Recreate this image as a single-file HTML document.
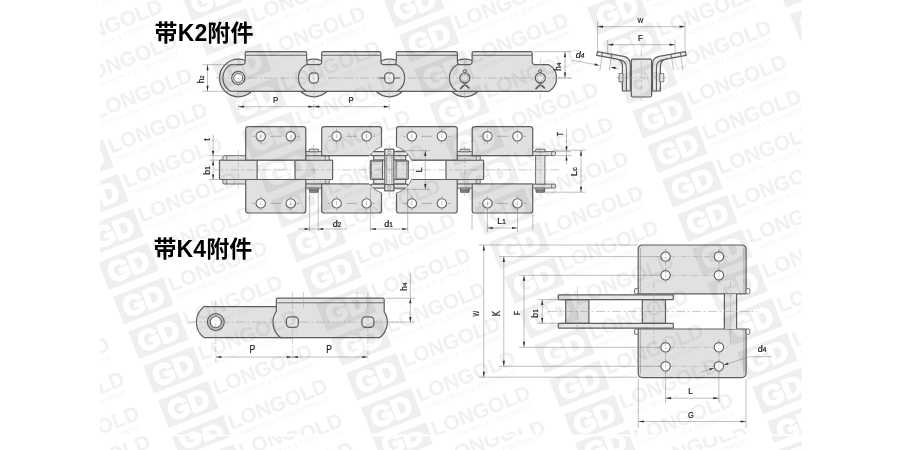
<!DOCTYPE html>
<html lang="zh"><head><meta charset="utf-8"><title>带K2附件 / 带K4附件</title>
<style>
html,body{margin:0;padding:0;background:#fff}
svg{display:block;will-change:transform}
.o{fill:#e1e1e1;stroke:#625d5d;stroke-width:1.2;stroke-linejoin:round}
.o2{fill:none;stroke:#625d5d;stroke-width:.9}
.t{fill:none;stroke:#8c8c8c;stroke-width:.55}
.c{fill:none;stroke:#a6a6a6;stroke-width:.6;stroke-dasharray:9 2.5 2 2.5}
.c2{fill:none;stroke:#a0a0a0;stroke-width:.5;stroke-dasharray:6 2 1.5 2}
.ah{fill:#2e2e2e;stroke:none}
.lb{font-family:"Liberation Sans","Noto Sans CJK SC",sans-serif;fill:#1c1c1c;stroke:#1c1c1c;stroke-width:.22px}
.ti{font-family:"Liberation Sans","Noto Sans CJK SC",sans-serif;font-weight:bold;font-size:23px;letter-spacing:.1px;fill:#000}
</style></head>
<body>
<svg width="900" height="450" viewBox="0 0 900 450">
<rect width="900" height="450" fill="#fff"/>
<g id="drawing">
<g id="k2side">
<circle class="o" style="fill:#e4e4e4" cx="238.3" cy="78.0" r="18.8"/>
<circle class="o" style="fill:#e4e4e4" cx="313.8" cy="78.0" r="18.8"/>
<circle class="o" style="fill:#e4e4e4" cx="389.3" cy="78.0" r="18.8"/>
<circle class="o" style="fill:#e4e4e4" cx="464.8" cy="78.0" r="18.8"/>
<path class="o" d="M230.54 64.70A15.4 15.4 0 0 0 230.54 91.30H321.56A15.4 15.4 0 0 0 321.56 64.70H309.90Q306.70 64.70 306.70 61.50V53.20Q306.70 51.70 305.20 51.70H246.70Q245.20 51.70 245.20 53.20V61.50Q245.20 64.70 242.00 64.70Z"/><path class="o2" d="M245.50 55.30H306.40"/>
<path class="o" d="M381.54 64.70A15.4 15.4 0 0 0 381.54 91.30H472.56A15.4 15.4 0 0 0 472.56 64.70H460.60Q457.40 64.70 457.40 61.50V53.20Q457.40 51.70 455.90 51.70H397.80Q396.30 51.70 396.30 53.20V61.50Q396.30 64.70 393.10 64.70Z"/><path class="o2" d="M396.60 55.30H457.10"/>
<path class="o" d="M306.04 64.70A15.4 15.4 0 0 0 306.04 91.30H397.06A15.4 15.4 0 0 0 397.06 64.70H384.10Q380.90 64.70 380.90 61.50V53.20Q380.90 51.70 379.40 51.70H323.20Q321.70 51.70 321.70 53.20V61.50Q321.70 64.70 318.50 64.70Z"/><path class="o2" d="M322.00 55.30H380.60"/>
<path class="o" d="M457.04 64.70A15.4 15.4 0 0 0 457.04 91.30H548.96A15.4 15.4 0 0 0 548.96 64.70H535.40Q532.20 64.70 532.20 61.50V53.20Q532.20 51.70 530.70 51.70H473.60Q472.10 51.70 472.10 53.20V61.50Q472.10 64.70 468.90 64.70Z"/><path class="o2" d="M472.40 55.30H531.90"/>
<path class="c" d="M216.0 78.0H572.0"/>
<circle class="o" style="fill:#e9e9e9" cx="238.3" cy="78.0" r="6.6"/><circle class="o" style="fill:#fff;stroke-width:.9" cx="238.3" cy="78.0" r="4.5"/>
<rect class="o" style="fill:#efefef" x="309.20" y="72.80" width="9.2" height="10.4" rx="3.6"/>
<rect class="o" style="fill:#efefef" x="384.70" y="72.80" width="9.2" height="10.4" rx="3.6"/>
<path class="o2" d="M378.8 78.0H384.7M393.9 78.0H399.8"/>
<circle class="o" style="fill:#f4f4f4" cx="464.8" cy="78.0" r="5"/><circle class="t" cx="464.8" cy="78.0" r="3.2"/>
<circle class="o" style="fill:none;stroke-width:1" cx="464.8" cy="71.2" r="1.6"/>
<path class="o" style="fill:none;stroke-width:1.8;stroke-linecap:round" d="M466.2 82.6L460.6 88.6M463.4 82.6L468.8 87.8"/>
<circle class="o" style="fill:#f4f4f4" cx="540.3" cy="78.0" r="5"/><circle class="t" cx="540.3" cy="78.0" r="3.2"/>
<circle class="o" style="fill:none;stroke-width:1" cx="540.3" cy="71.2" r="1.6"/>
<path class="o" style="fill:none;stroke-width:1.8;stroke-linecap:round" d="M541.7 82.6L536.1 88.6M538.9 82.6L544.3 87.8"/>
<path class="c2" d="M238.3 58.0V111.0"/>
<path class="c2" d="M313.8 58.0V111.0"/>
<path class="c2" d="M389.3 58.0V111.0"/>
<path class="c2" d="M464.8 58.0V100.0"/>
<path class="c2" d="M540.3 59.0V100.0"/>
<path class="t" d="M202.5 64.7H236M202.5 91.3H236"/>
<path class="t" d="M207.50 64.70V91.30"/><path class="ah" d="M207.50 64.70L208.60 70.20L206.40 70.20Z"/><path class="ah" d="M207.50 91.30L206.40 85.80L208.60 85.80Z"/>
<text class="lb" transform="translate(203.90 79.30) rotate(-90)" font-size="8.4" text-anchor="middle">h<tspan font-size="6.0">2</tspan></text>
<path class="t" d="M238.30 106.70H313.80"/><path class="ah" d="M238.30 106.70L243.80 105.60L243.80 107.80Z"/><path class="ah" d="M313.80 106.70L308.30 107.80L308.30 105.60Z"/>
<path class="t" d="M313.80 106.70H389.30"/><path class="ah" d="M313.80 106.70L319.30 105.60L319.30 107.80Z"/><path class="ah" d="M389.30 106.70L383.80 107.80L383.80 105.60Z"/>
<text class="lb" transform="translate(275.50 102.80) scale(0.90 1)" font-size="8.7" text-anchor="middle">P</text>
<text class="lb" transform="translate(351.00 102.80) scale(0.90 1)" font-size="8.7" text-anchor="middle">P</text>
<path class="t" d="M533 51.7H571M558 78.0H571"/>
<path class="t" d="M565.00 51.70V78.00"/><path class="ah" d="M565.00 51.70L566.10 57.20L563.90 57.20Z"/><path class="ah" d="M565.00 78.00L563.90 72.50L566.10 72.50Z"/>
<text class="lb" transform="translate(561.30 66.70) rotate(-90)" font-size="8.4" text-anchor="middle">h<tspan font-size="6.0">4</tspan></text>
</g>
<g id="k2cross">
<path class="t" d="M597.5 21.5V52M685 21.5V52M607.7 40V58M675 40V58"/>
<path class="t" d="M597.50 26.70H685.00"/><path class="ah" d="M597.50 26.70L603.00 25.60L603.00 27.80Z"/><path class="ah" d="M685.00 26.70L679.50 27.80L679.50 25.60Z"/>
<path class="t" d="M607.70 44.70H675.00"/><path class="ah" d="M607.70 44.70L613.20 43.60L613.20 45.80Z"/><path class="ah" d="M675.00 44.70L669.50 45.80L669.50 43.60Z"/>
<text class="lb" transform="translate(640.50 23.00) scale(0.85 1)" font-size="7.2" text-anchor="middle">W</text>
<text class="lb" transform="translate(640.50 40.80) scale(0.90 1)" font-size="8.7" text-anchor="middle">F</text>
<path class="o" style="stroke-width:1.2;fill:#ececec" d="M597.50 51.70L623.60 56.30Q630.30 57.60 630.30 64.50V91H622.40V66.5Q622.40 60.30 617.00 59.20L596.70 55.30Z"/><path class="o2" style="stroke-width:1.1" d="M619.20 59.60Q626.40 60.60 626.40 67.50V91"/><path class="o2" style="stroke-width:.9" d="M602.40 52.56L601.80 56.16"/><path class="o2" style="stroke-width:.9" d="M611.80 54.22L611.20 57.82"/><rect class="o" style="stroke-width:.8;fill:#eee" x="619.00" y="73.6" width="4" height="8.2"/><path class="t" d="M602.00 56.50L599.80 70.50"/><path class="t" d="M611.40 56.50L609.20 70.50"/>
<path class="o" style="stroke-width:1.2;fill:#ececec" d="M685.30 51.70L659.20 56.30Q652.50 57.60 652.50 64.50V91H660.40V66.5Q660.40 60.30 665.80 59.20L686.10 55.30Z"/><path class="o2" style="stroke-width:1.1" d="M663.60 59.60Q656.40 60.60 656.40 67.50V91"/><path class="o2" style="stroke-width:.9" d="M680.40 52.56L681.00 56.16"/><path class="o2" style="stroke-width:.9" d="M671.00 54.22L671.60 57.82"/><rect class="o" style="stroke-width:.8;fill:#eee" x="659.80" y="73.6" width="4" height="8.2"/><path class="t" d="M680.80 56.50L683.00 70.50"/><path class="t" d="M671.40 56.50L673.60 70.50"/>
<rect class="o" style="fill:#e6e6e6" x="631.3" y="59.2" width="20.3" height="37.8" rx="1.5"/>
<path class="c2" d="M641.3 50V101M616 77.7H667"/>
<path class="t" d="M572 60.2L597.5 65M612.5 67.4L619.5 69"/>
<path class="ah" d="M599.60 65.40L594.48 65.48L594.92 63.33Z"/>
<path class="ah" d="M610.60 67.10L615.72 67.02L615.28 69.17Z"/>
<text class="lb" transform="translate(580.00 58.30)" font-size="9.0" text-anchor="middle" font-style="italic">d<tspan font-size="6.5">4</tspan></text>
</g>
<g id="k2plan">
<rect class="o" style="fill:#e4e4e4" x="219.50" y="160.20" width="37.6" height="19.30" rx="0.8"/>
<rect class="o" style="fill:#e4e4e4" x="295.00" y="160.20" width="37.6" height="19.30" rx="0.8"/>
<rect class="o" style="fill:#e4e4e4" x="446.00" y="160.20" width="37.6" height="19.30" rx="0.8"/>
<rect class="o" style="stroke-width:.9" x="222.80" y="155.70" width="106.50" height="4.5" rx="1.2"/>
<path class="o2" style="stroke-width:.7" d="M226.80 155.70v4.5M325.30 155.70v4.5"/>
<rect class="o" style="stroke-width:.9" x="222.80" y="179.50" width="106.50" height="4.5" rx="1.2"/>
<path class="o2" style="stroke-width:.7" d="M226.80 179.50v4.5M325.30 179.50v4.5"/>
<rect class="o" style="stroke-width:.9" x="373.80" y="155.70" width="106.50" height="4.5" rx="1.2"/>
<path class="o2" style="stroke-width:.7" d="M377.80 155.70v4.5M476.30 155.70v4.5"/>
<rect class="o" style="stroke-width:.9" x="373.80" y="179.50" width="106.50" height="4.5" rx="1.2"/>
<path class="o2" style="stroke-width:.7" d="M377.80 179.50v4.5M476.30 179.50v4.5"/>
<rect class="o" style="stroke-width:.9" x="298.50" y="151.60" width="106.10" height="4" rx="1.2"/>
<path class="o2" style="stroke-width:.7" d="M302.50 151.60v4M400.60 151.60v4"/>
<rect class="o" style="stroke-width:.9" x="298.50" y="184.10" width="106.10" height="4" rx="1.2"/>
<path class="o2" style="stroke-width:.7" d="M302.50 184.10v4M400.60 184.10v4"/>
<rect class="o" style="stroke-width:.9" x="449.50" y="151.60" width="106.10" height="4" rx="1.2"/>
<path class="o2" style="stroke-width:.7" d="M453.50 151.60v4M551.60 151.60v4"/>
<rect class="o" style="stroke-width:.9" x="449.50" y="184.10" width="106.10" height="4" rx="1.2"/>
<path class="o2" style="stroke-width:.7" d="M453.50 184.10v4M551.60 184.10v4"/>
<rect class="o" style="fill:#e6e6e6;stroke-width:.9" x="535.6" y="155.60" width="9.3" height="28.50"/>
<path class="o" d="M245.70 160.20V129.20Q245.70 126.70 248.20 126.70H303.30Q305.80 126.70 305.80 129.20V160.20Z"/>
<path class="o" d="M245.70 179.50V210.50Q245.70 213.00 248.20 213.00H303.30Q305.80 213.00 305.80 210.50V179.50Z"/>
<path class="t" style="stroke:#8a8a8a;stroke-width:.6" d="M252.15 136.30h2.6M270.45 136.30h10.6M296.75 136.30h2.6"/>
<circle class="o" style="fill:#fff;stroke-width:1.05" cx="260.75" cy="136.30" r="4.7"/>
<path class="t" d="M260.75 128.80v3M260.75 140.80v3M260.75 134.30v4"/>
<circle class="o" style="fill:#fff;stroke-width:1.05" cx="290.75" cy="136.30" r="4.7"/>
<path class="t" d="M290.75 128.80v3M290.75 140.80v3M290.75 134.30v4"/>
<path class="t" style="stroke:#8a8a8a;stroke-width:.6" d="M252.15 203.40h2.6M270.45 203.40h10.6M296.75 203.40h2.6"/>
<circle class="o" style="fill:#fff;stroke-width:1.05" cx="260.75" cy="203.40" r="4.7"/>
<path class="t" d="M260.75 195.90v3M260.75 207.90v3M260.75 201.40v4"/>
<circle class="o" style="fill:#fff;stroke-width:1.05" cx="290.75" cy="203.40" r="4.7"/>
<path class="t" d="M290.75 195.90v3M290.75 207.90v3M290.75 201.40v4"/>
<path class="o" d="M321.70 155.70V129.20Q321.70 126.70 324.20 126.70H379.00Q381.50 126.70 381.50 129.20V155.70Z"/>
<path class="o" d="M321.70 184.00V210.50Q321.70 213.00 324.20 213.00H379.00Q381.50 213.00 381.50 210.50V184.00Z"/>
<path class="t" style="stroke:#8a8a8a;stroke-width:.6" d="M328.00 136.30h2.6M346.30 136.30h10.6M372.60 136.30h2.6"/>
<circle class="o" style="fill:#fff;stroke-width:1.05" cx="336.60" cy="136.30" r="4.7"/>
<path class="t" d="M336.60 128.80v3M336.60 140.80v3M336.60 134.30v4"/>
<circle class="o" style="fill:#fff;stroke-width:1.05" cx="366.60" cy="136.30" r="4.7"/>
<path class="t" d="M366.60 128.80v3M366.60 140.80v3M366.60 134.30v4"/>
<path class="t" style="stroke:#8a8a8a;stroke-width:.6" d="M328.00 203.40h2.6M346.30 203.40h10.6M372.60 203.40h2.6"/>
<circle class="o" style="fill:#fff;stroke-width:1.05" cx="336.60" cy="203.40" r="4.7"/>
<path class="t" d="M336.60 195.90v3M336.60 207.90v3M336.60 201.40v4"/>
<circle class="o" style="fill:#fff;stroke-width:1.05" cx="366.60" cy="203.40" r="4.7"/>
<path class="t" d="M366.60 195.90v3M366.60 207.90v3M366.60 201.40v4"/>
<path class="o" d="M396.50 160.20V129.20Q396.50 126.70 399.00 126.70H454.70Q457.20 126.70 457.20 129.20V160.20Z"/>
<path class="o" d="M396.50 179.50V210.50Q396.50 213.00 399.00 213.00H454.70Q457.20 213.00 457.20 210.50V179.50Z"/>
<path class="t" style="stroke:#8a8a8a;stroke-width:.6" d="M403.25 136.30h2.6M421.55 136.30h10.6M447.85 136.30h2.6"/>
<circle class="o" style="fill:#fff;stroke-width:1.05" cx="411.85" cy="136.30" r="4.7"/>
<path class="t" d="M411.85 128.80v3M411.85 140.80v3M411.85 134.30v4"/>
<circle class="o" style="fill:#fff;stroke-width:1.05" cx="441.85" cy="136.30" r="4.7"/>
<path class="t" d="M441.85 128.80v3M441.85 140.80v3M441.85 134.30v4"/>
<path class="t" style="stroke:#8a8a8a;stroke-width:.6" d="M403.25 203.40h2.6M421.55 203.40h10.6M447.85 203.40h2.6"/>
<circle class="o" style="fill:#fff;stroke-width:1.05" cx="411.85" cy="203.40" r="4.7"/>
<path class="t" d="M411.85 195.90v3M411.85 207.90v3M411.85 201.40v4"/>
<circle class="o" style="fill:#fff;stroke-width:1.05" cx="441.85" cy="203.40" r="4.7"/>
<path class="t" d="M441.85 195.90v3M441.85 207.90v3M441.85 201.40v4"/>
<path class="o" d="M472.20 155.70V129.20Q472.20 126.70 474.70 126.70H530.20Q532.70 126.70 532.70 129.20V155.70Z"/>
<path class="o" d="M472.20 184.00V210.50Q472.20 213.00 474.70 213.00H530.20Q532.70 213.00 532.70 210.50V184.00Z"/>
<path class="t" style="stroke:#8a8a8a;stroke-width:.6" d="M478.85 136.30h2.6M497.15 136.30h10.6M523.45 136.30h2.6"/>
<circle class="o" style="fill:#fff;stroke-width:1.05" cx="487.45" cy="136.30" r="4.7"/>
<path class="t" d="M487.45 128.80v3M487.45 140.80v3M487.45 134.30v4"/>
<circle class="o" style="fill:#fff;stroke-width:1.05" cx="517.45" cy="136.30" r="4.7"/>
<path class="t" d="M517.45 128.80v3M517.45 140.80v3M517.45 134.30v4"/>
<path class="t" style="stroke:#8a8a8a;stroke-width:.6" d="M478.85 203.40h2.6M497.15 203.40h10.6M523.45 203.40h2.6"/>
<circle class="o" style="fill:#fff;stroke-width:1.05" cx="487.45" cy="203.40" r="4.7"/>
<path class="t" d="M487.45 195.90v3M487.45 207.90v3M487.45 201.40v4"/>
<circle class="o" style="fill:#fff;stroke-width:1.05" cx="517.45" cy="203.40" r="4.7"/>
<path class="t" d="M517.45 195.90v3M517.45 207.90v3M517.45 201.40v4"/>
<rect class="o" style="fill:#e8e8e8;stroke-width:.9" x="309.20" y="149.20" width="9.2" height="2.6"/>
<rect class="o" style="fill:#e8e8e8;stroke-width:.9" x="309.20" y="188.10" width="9.2" height="2.0"/>
<rect class="o" style="fill:#8a8686;stroke-width:.9" x="309.60" y="189.90" width="8.4" height="2.4"/>
<rect class="o" style="fill:#e8e8e8;stroke-width:.9" x="460.20" y="149.20" width="9.2" height="2.6"/>
<rect class="o" style="fill:#e8e8e8;stroke-width:.9" x="460.20" y="188.10" width="9.2" height="2.0"/>
<rect class="o" style="fill:#8a8686;stroke-width:.9" x="460.60" y="189.90" width="8.4" height="2.4"/>
<rect class="o" style="fill:#e8e8e8;stroke-width:.9" x="535.70" y="149.20" width="9.2" height="2.6"/>
<rect class="o" style="fill:#e8e8e8;stroke-width:.9" x="535.70" y="188.10" width="9.2" height="2.0"/>
<rect class="o" style="fill:#8a8686;stroke-width:.9" x="536.10" y="189.90" width="8.4" height="2.4"/>
<circle cx="389.30" cy="169.85" r="24.3" fill="#fff" stroke="#dcdcdc" stroke-width=".5"/>
<clipPath id="wcl"><rect x="321.7" y="126" width="59.8" height="29.70"/><rect x="321.7" y="184.00" width="59.8" height="30"/><rect x="396.5" y="126" width="60.7" height="34.20"/><rect x="396.5" y="179.50" width="60.7" height="30"/></clipPath>
<circle cx="389.30" cy="169.85" r="24.3" fill="none" stroke="#625d5d" stroke-width=".8" clip-path="url(#wcl)"/>
<clipPath id="bo"><circle cx="389.30" cy="169.85" r="24.3"/></clipPath>
<g clip-path="url(#bo)"><rect class="o" style="stroke-width:1.1;fill:#e6e6e6" x="371.00" y="151.60" width="36.60" height="4" rx="1"/><rect class="o" style="stroke-width:1.1;fill:#e6e6e6" x="371.00" y="184.10" width="36.60" height="4" rx="1"/><rect class="o" style="stroke-width:1.1;fill:#e6e6e6" x="373.70" y="155.70" width="32.10" height="4.3" rx="1"/><rect class="o" style="stroke-width:1.1;fill:#e6e6e6" x="373.70" y="179.50" width="32.10" height="4.3" rx="1"/><rect class="o" style="fill:#e1e1e1;stroke-width:1.1" x="370.30" y="160.20" width="38.00" height="19.30" rx="1"/><rect class="o2" style="stroke-width:.6" x="371.70" y="161.50" width="35.20" height="16.70"/><rect class="o" style="fill:#ececec;stroke-width:1" x="382.50" y="160.10" width="13.60" height="19.50"/></g>
<rect class="o" style="fill:#ececec;stroke-width:1.1" x="384.80" y="149.2" width="9" height="41.5"/>
<path class="o2" style="stroke-width:.6" d="M386.70 155.3V184.6M391.90 155.3V184.6"/>
<rect class="o" style="fill:#e4e4e4;stroke-width:1.1" x="384.80" y="149.20" width="9" height="6.1"/>
<circle class="o" style="fill:#fff;stroke-width:.7" cx="389.30" cy="152.25" r="1.5"/>
<rect class="o" style="fill:#e4e4e4;stroke-width:1.1" x="384.80" y="184.60" width="9" height="6.1"/>
<circle class="o" style="fill:#fff;stroke-width:.7" cx="389.30" cy="187.65" r="1.5"/>
<path class="c" d="M214 169.85H560"/>
<path class="c2" d="M238.30 150.00V189.00"/>
<path class="c2" d="M313.80 145.00V195.00"/>
<path class="c2" d="M389.30 145.00V196.00"/>
<path class="c2" d="M464.80 146.00V196.00"/>
<path class="c2" d="M540.30 146.00V196.00"/>
<path class="t" d="M209 155.70H222M209 160.20H219M209 179.50H219"/>
<path class="t" d="M213.1 135V179.50"/>
<path class="ah" d="M213.10 155.70L212.00 150.70L214.20 150.70Z"/>
<path class="ah" d="M213.10 160.20L214.20 165.20L212.00 165.20Z"/>
<path class="ah" d="M213.10 179.50L212.00 174.50L214.20 174.50Z"/>
<text class="lb" transform="translate(209.50 139.50) rotate(-90)" font-size="8.8" text-anchor="middle">t</text>
<text class="lb" transform="translate(209.50 170.50) rotate(-90)" font-size="8.8" text-anchor="middle">b<tspan font-size="6.3">1</tspan></text>
<path class="t" d="M396 150.6H430M396 189.4H430"/>
<path class="t" d="M425.30 150.60V189.40"/><path class="ah" d="M425.30 150.60L426.40 156.10L424.20 156.10Z"/><path class="ah" d="M425.30 189.40L424.20 183.90L426.40 183.90Z"/>
<text class="lb" transform="translate(422.00 170.00) rotate(-90)" font-size="9.0" text-anchor="middle">L</text>
<path class="t" d="M556 151.60H571M556 155.60H571M566.5 129V165"/>
<path class="ah" d="M566.50 151.60L565.40 146.60L567.60 146.60Z"/>
<path class="ah" d="M566.50 155.60L567.60 160.60L565.40 160.60Z"/>
<text class="lb" transform="translate(562.70 134.00) rotate(-90) scale(0.80 1)" font-size="8.8" text-anchor="middle">T</text>
<path class="t" d="M553 150.2H585.5M546 192.2H585.5"/>
<path class="t" d="M581.00 150.20V192.20"/><path class="ah" d="M581.00 150.20L582.10 155.70L579.90 155.70Z"/><path class="ah" d="M581.00 192.20L579.90 186.70L582.10 186.70Z"/>
<text class="lb" transform="translate(577.30 171.70) rotate(-90)" font-size="9.8" text-anchor="middle">L<tspan font-size="7.1">c</tspan></text>
<path class="t" d="M309.6 191V231M318.2 191V231M298 229H347"/>
<path class="ah" d="M309.60 229.00L304.60 230.10L304.60 227.90Z"/>
<path class="ah" d="M318.20 229.00L323.20 227.90L323.20 230.10Z"/>
<text class="lb" transform="translate(337.00 226.50)" font-size="9.0" text-anchor="middle">d<tspan font-size="6.5">2</tspan></text>
<path class="t" d="M370.4 188V231M407.7 188V231"/>
<path class="t" d="M370.40 229.00H407.70"/><path class="ah" d="M370.40 229.00L375.90 227.90L375.90 230.10Z"/><path class="ah" d="M407.70 229.00L402.20 230.10L402.20 227.90Z"/>
<text class="lb" transform="translate(388.60 226.50)" font-size="9.0" text-anchor="middle">d<tspan font-size="6.5">1</tspan></text>
<path class="t" d="M487.4 209V232M517.5 209V232M472 214V230M532.8 214V230"/>
<path class="t" d="M487.40 228.00H517.50"/><path class="ah" d="M487.40 228.00L492.90 226.90L492.90 229.10Z"/><path class="ah" d="M517.50 228.00L512.00 229.10L512.00 226.90Z"/>
<text class="lb" transform="translate(501.50 224.40)" font-size="9.0" text-anchor="middle">L<tspan font-size="6.5">1</tspan></text>
</g>
<g id="k4side">
<path class="o" d="M204.20 306.60A19.4 19.4 0 0 0 204.20 337.70H292.40V306.60Z"/>
<path class="o" d="M276.30 311.28A19.4 19.4 0 0 0 280.80 337.70H379.50A19.4 19.4 0 0 0 384.20 311.58V299.70Q384.20 298.20 382.70 298.20H277.80Q276.30 298.20 276.30 299.70Z"/>
<path class="o2" d="M276.60 302.80H383.90"/>
<path class="c" d="M188 322.10H398"/>
<circle class="o" style="fill:#e6e6e6" cx="215.8" cy="322.1" r="8.4"/><circle class="t" style="stroke:#777" cx="215.8" cy="322.1" r="7"/><circle class="o" style="fill:#fff" cx="215.8" cy="322.1" r="5.6"/>
<rect class="o" style="fill:#e4e4e4" x="286.40" y="316.90" width="12" height="10.4" rx="3.6"/>
<rect class="o" style="fill:#e4e4e4" x="361.90" y="316.90" width="12" height="10.4" rx="3.6"/>
<path class="c2" d="M215.8 300V362M292.4 292V362M367.9 292V362"/>
<path class="c2" d="M303.5 292V308M357.2 292V308"/>
<path class="t" d="M215.80 357.00H292.40"/><path class="ah" d="M215.80 357.00L221.30 355.90L221.30 358.10Z"/><path class="ah" d="M292.40 357.00L286.90 358.10L286.90 355.90Z"/>
<path class="t" d="M292.40 357.00H367.90"/><path class="ah" d="M292.40 357.00L297.90 355.90L297.90 358.10Z"/><path class="ah" d="M367.90 357.00L362.40 358.10L362.40 355.90Z"/>
<text class="lb" transform="translate(252.30 352.60) scale(0.85 1)" font-size="10.0" text-anchor="middle">P</text>
<text class="lb" transform="translate(329.20 352.60) scale(0.85 1)" font-size="10.0" text-anchor="middle">P</text>
<path class="t" d="M385 298.20H415M389 322.10H415M410.3 273V322.10"/>
<path class="ah" d="M410.30 298.20L411.40 303.20L409.20 303.20Z"/>
<path class="ah" d="M410.30 322.10L409.20 317.10L411.40 317.10Z"/>
<text class="lb" transform="translate(406.50 286.70) rotate(-90)" font-size="8.4" text-anchor="middle">h<tspan font-size="6.0">4</tspan></text>
</g>
<g id="k4plan">
<path class="o" d="M638.20 293.90V249.50Q638.20 245.00 642.70 245.00H741.60Q746.10 245.00 746.10 249.50V293.90Z"/><path class="o2" style="stroke-width:.6;stroke:#8f8a8a" d="M640.40 293.90V248.00M743.90 293.90V248.00"/><rect class="o" style="stroke-width:.9;fill:#f6f6f6" x="634.50" y="288.50" width="3.7" height="5.4" rx="1.3"/><rect class="o" style="stroke-width:.9;fill:#f6f6f6" x="746.10" y="288.50" width="3.7" height="5.4" rx="1.3"/>
<path class="o" d="M638.20 329.00V373.10Q638.20 377.60 642.70 377.60H741.60Q746.10 377.60 746.10 373.10V329.00Z"/><path class="o2" style="stroke-width:.6;stroke:#8f8a8a" d="M640.40 329.00V374.60M743.90 329.00V374.60"/><rect class="o" style="stroke-width:.9;fill:#f6f6f6" x="634.50" y="329.00" width="3.7" height="5.4" rx="1.3"/><rect class="o" style="stroke-width:.9;fill:#f6f6f6" x="746.10" y="329.00" width="3.7" height="5.4" rx="1.3"/>
<path class="c2" d="M657.60 256.60H727.90"/>
<circle class="o" style="fill:#fff;stroke-width:1.1" cx="665.60" cy="256.60" r="4.7"/>
<path class="t" d="M665.60 249.10v3M665.60 261.10v3"/>
<circle class="o" style="fill:#fff;stroke-width:1.1" cx="718.90" cy="256.60" r="4.7"/>
<path class="t" d="M718.90 249.10v3M718.90 261.10v3"/>
<path class="c2" d="M657.60 275.30H727.90"/>
<circle class="o" style="fill:#fff;stroke-width:1.1" cx="665.60" cy="275.30" r="4.7"/>
<path class="t" d="M665.60 267.80v3M665.60 279.80v3"/>
<circle class="o" style="fill:#fff;stroke-width:1.1" cx="718.90" cy="275.30" r="4.7"/>
<path class="t" d="M718.90 267.80v3M718.90 279.80v3"/>
<path class="c2" d="M657.60 347.30H727.90"/>
<circle class="o" style="fill:#fff;stroke-width:1.1" cx="665.60" cy="347.30" r="4.7"/>
<path class="t" d="M665.60 339.80v3M665.60 351.80v3"/>
<circle class="o" style="fill:#fff;stroke-width:1.1" cx="718.90" cy="347.30" r="4.7"/>
<path class="t" d="M718.90 339.80v3M718.90 351.80v3"/>
<path class="c2" d="M657.60 366.30H727.90"/>
<circle class="o" style="fill:#fff;stroke-width:1.1" cx="665.60" cy="366.30" r="4.7"/>
<path class="t" d="M665.60 358.80v3M665.60 370.80v3"/>
<circle class="o" style="fill:#fff;stroke-width:1.1" cx="718.90" cy="366.30" r="4.7"/>
<path class="t" d="M718.90 358.80v3M718.90 370.80v3"/>
<path class="c2" d="M665.60 249V283M665.60 340V374"/>
<path class="c2" d="M718.90 249V283M718.90 340V374"/>
<rect x="724.4" y="293.90" width="12.2" height="35.10" fill="#e4e4e4"/>
<path class="o" style="fill:none" d="M724.4 293.90V329.00M736.6 293.90V329.00"/>
<rect class="o" style="fill:#dedede" x="565.70" y="299.60" width="23.2" height="23.70" rx="0.8"/>
<rect class="o" style="fill:#dedede" x="642.30" y="299.60" width="23.2" height="23.70" rx="0.8"/>
<rect class="o" style="fill:#e9e9e9" x="558.3" y="294.80" width="115" height="4.8" rx="0.6"/>
<rect class="o" style="fill:#e9e9e9" x="558.3" y="323.30" width="115" height="4.8" rx="0.6"/>
<path class="c" d="M548 311.45H757"/>
<path class="c2" d="M577.30 287V333M653.90 282V345M730.50 282V345"/>
<path class="t" d="M479 245.00H638M479 377.20H640"/>
<path class="t" d="M499 256.6H661M499 366.3H661M519 275.3H661M519 347.3H661"/>
<path class="t" d="M537.8 299.60H566M537.8 323.30H566"/>
<path class="t" d="M483.80 245.00V377.20"/><path class="ah" d="M483.80 245.00L484.90 250.50L482.70 250.50Z"/><path class="ah" d="M483.80 377.20L482.70 371.70L484.90 371.70Z"/>
<path class="t" d="M503.80 256.60V366.30"/><path class="ah" d="M503.80 256.60L504.90 262.10L502.70 262.10Z"/><path class="ah" d="M503.80 366.30L502.70 360.80L504.90 360.80Z"/>
<path class="t" d="M524.00 275.30V347.30"/><path class="ah" d="M524.00 275.30L525.10 280.80L522.90 280.80Z"/><path class="ah" d="M524.00 347.30L522.90 341.80L525.10 341.80Z"/>
<path class="t" d="M542.20 299.60V323.30"/><path class="ah" d="M542.20 299.60L543.30 305.10L541.10 305.10Z"/><path class="ah" d="M542.20 323.30L541.10 317.80L543.30 317.80Z"/>
<text class="lb" transform="translate(479.30 313.60) rotate(-90) scale(0.60 1)" font-size="9.9" text-anchor="middle">W</text>
<text class="lb" transform="translate(499.80 313.60) rotate(-90) scale(0.78 1)" font-size="10.4" text-anchor="middle">K</text>
<text class="lb" transform="translate(520.20 313.00) rotate(-90) scale(0.68 1)" font-size="9.9" text-anchor="middle">F</text>
<text class="lb" transform="translate(538.40 313.50) rotate(-90) scale(0.90 1)" font-size="9.7" text-anchor="middle">b<tspan font-size="7.0">1</tspan></text>
<path class="t" d="M665.6 372V403M718.9 372V403M638.3 379V428M746 379V428"/>
<path class="t" d="M665.60 398.20H718.90"/><path class="ah" d="M665.60 398.20L671.10 397.10L671.10 399.30Z"/><path class="ah" d="M718.90 398.20L713.40 399.30L713.40 397.10Z"/>
<path class="t" d="M638.30 421.50H746.00"/><path class="ah" d="M638.30 421.50L643.80 420.40L643.80 422.60Z"/><path class="ah" d="M746.00 421.50L740.50 422.60L740.50 420.40Z"/>
<text class="lb" transform="translate(690.50 393.60) scale(0.90 1)" font-size="9.2" text-anchor="middle">L</text>
<text class="lb" transform="translate(690.80 417.60) scale(0.80 1)" font-size="9.2" text-anchor="middle">G</text>
<path class="t" d="M771.6 356.7H749.6L724.5 364.7M713.3 368.3L700.5 372.4"/>
<path class="ah" d="M723.50 365.05L727.93 362.48L728.60 364.58Z"/>
<path class="ah" d="M714.30 367.95L709.87 370.52L709.20 368.42Z"/>
<text class="lb" transform="translate(762.00 352.00)" font-size="9.0" text-anchor="middle">d<tspan font-size="6.5">4</tspan></text>
</g>
<text class="ti" x="154.6" y="41.2">带K2附件</text><text class="ti" x="153.5" y="256.6">带K4附件</text>
</g>
<g id="watermark" style="mix-blend-mode:multiply">
<defs><g id="wm"><rect x="-26.5" y="-15.1" width="53.5" height="29.6" fill="#efefef"/><text x="0.3" y="9.4" text-anchor="middle" font-size="28" font-weight="bold" fill="#fff" stroke="#fff" stroke-width="2" stroke-linejoin="round" letter-spacing="0.3" style="font-family:'Liberation Sans',sans-serif">GD</text><text x="29.8" y="1.4" font-size="21" font-weight="bold" fill="#f1f1f1" style="font-family:'Liberation Sans',sans-serif">LONGOLD</text><text x="31.5" y="10.4" font-size="6.4" fill="#f4f4f4" textLength="100" lengthAdjust="spacingAndGlyphs" style="font-family:'Liberation Sans',sans-serif">CHAIN HEAVY &amp; EQUIPMENT</text></g><clipPath id="wc1"><rect x="100" y="0" width="701.5" height="434.6"/></clipPath><clipPath id="wc2"><rect x="100" y="436.2" width="701.5" height="14"/></clipPath></defs>
<g clip-path="url(#wc1)"><use href="#wm" transform="translate(-119.7 156.3) rotate(-21.5)"/><use href="#wm" transform="translate(-104.7 190.8) rotate(-21.5)"/><use href="#wm" transform="translate(-89.7 225.3) rotate(-21.5)"/><use href="#wm" transform="translate(-74.7 259.8) rotate(-21.5)"/><use href="#wm" transform="translate(-59.7 294.3) rotate(-21.5)"/><use href="#wm" transform="translate(-44.7 328.8) rotate(-21.5)"/><use href="#wm" transform="translate(-29.7 363.3) rotate(-21.5)"/><use href="#wm" transform="translate(-14.7 397.8) rotate(-21.5)"/><use href="#wm" transform="translate(0.3 432.3) rotate(-21.5)"/><use href="#wm" transform="translate(15.3 466.8) rotate(-21.5)"/><use href="#wm" transform="translate(30.3 501.3) rotate(-21.5)"/><use href="#wm" transform="translate(-6.7 -43.7) rotate(-21.5)"/><use href="#wm" transform="translate(8.3 -9.2) rotate(-21.5)"/><use href="#wm" transform="translate(23.3 25.3) rotate(-21.5)"/><use href="#wm" transform="translate(38.3 59.8) rotate(-21.5)"/><use href="#wm" transform="translate(53.3 94.3) rotate(-21.5)"/><use href="#wm" transform="translate(68.3 128.8) rotate(-21.5)"/><use href="#wm" transform="translate(83.3 163.3) rotate(-21.5)"/><use href="#wm" transform="translate(98.3 197.8) rotate(-21.5)"/><use href="#wm" transform="translate(113.3 232.3) rotate(-21.5)"/><use href="#wm" transform="translate(128.3 266.8) rotate(-21.5)"/><use href="#wm" transform="translate(143.3 301.3) rotate(-21.5)"/><use href="#wm" transform="translate(158.3 335.8) rotate(-21.5)"/><use href="#wm" transform="translate(173.3 370.3) rotate(-21.5)"/><use href="#wm" transform="translate(188.3 404.8) rotate(-21.5)"/><use href="#wm" transform="translate(203.3 439.3) rotate(-21.5)"/><use href="#wm" transform="translate(218.3 473.8) rotate(-21.5)"/><use href="#wm" transform="translate(233.3 508.3) rotate(-21.5)"/><use href="#wm" transform="translate(196.3 -36.7) rotate(-21.5)"/><use href="#wm" transform="translate(211.3 -2.2) rotate(-21.5)"/><use href="#wm" transform="translate(226.3 32.3) rotate(-21.5)"/><use href="#wm" transform="translate(241.3 66.8) rotate(-21.5)"/><use href="#wm" transform="translate(256.3 101.3) rotate(-21.5)"/><use href="#wm" transform="translate(271.3 135.8) rotate(-21.5)"/><use href="#wm" transform="translate(286.3 170.3) rotate(-21.5)"/><use href="#wm" transform="translate(301.3 204.8) rotate(-21.5)"/><use href="#wm" transform="translate(316.3 239.3) rotate(-21.5)"/><use href="#wm" transform="translate(331.3 273.8) rotate(-21.5)"/><use href="#wm" transform="translate(346.3 308.3) rotate(-21.5)"/><use href="#wm" transform="translate(361.3 342.8) rotate(-21.5)"/><use href="#wm" transform="translate(376.3 377.3) rotate(-21.5)"/><use href="#wm" transform="translate(391.3 411.8) rotate(-21.5)"/><use href="#wm" transform="translate(406.3 446.3) rotate(-21.5)"/><use href="#wm" transform="translate(421.3 480.8) rotate(-21.5)"/><use href="#wm" transform="translate(436.3 515.3) rotate(-21.5)"/><use href="#wm" transform="translate(399.3 -29.7) rotate(-21.5)"/><use href="#wm" transform="translate(414.3 4.8) rotate(-21.5)"/><use href="#wm" transform="translate(429.3 39.3) rotate(-21.5)"/><use href="#wm" transform="translate(444.3 73.8) rotate(-21.5)"/><use href="#wm" transform="translate(459.3 108.3) rotate(-21.5)"/><use href="#wm" transform="translate(474.3 142.8) rotate(-21.5)"/><use href="#wm" transform="translate(489.3 177.3) rotate(-21.5)"/><use href="#wm" transform="translate(504.3 211.8) rotate(-21.5)"/><use href="#wm" transform="translate(519.3 246.3) rotate(-21.5)"/><use href="#wm" transform="translate(534.3 280.8) rotate(-21.5)"/><use href="#wm" transform="translate(549.3 315.3) rotate(-21.5)"/><use href="#wm" transform="translate(564.3 349.8) rotate(-21.5)"/><use href="#wm" transform="translate(579.3 384.3) rotate(-21.5)"/><use href="#wm" transform="translate(594.3 418.8) rotate(-21.5)"/><use href="#wm" transform="translate(609.3 453.3) rotate(-21.5)"/><use href="#wm" transform="translate(624.3 487.8) rotate(-21.5)"/><use href="#wm" transform="translate(587.3 -57.2) rotate(-21.5)"/><use href="#wm" transform="translate(602.3 -22.7) rotate(-21.5)"/><use href="#wm" transform="translate(617.3 11.8) rotate(-21.5)"/><use href="#wm" transform="translate(632.3 46.3) rotate(-21.5)"/><use href="#wm" transform="translate(647.3 80.8) rotate(-21.5)"/><use href="#wm" transform="translate(662.3 115.3) rotate(-21.5)"/><use href="#wm" transform="translate(677.3 149.8) rotate(-21.5)"/><use href="#wm" transform="translate(692.3 184.3) rotate(-21.5)"/><use href="#wm" transform="translate(707.3 218.8) rotate(-21.5)"/><use href="#wm" transform="translate(722.3 253.3) rotate(-21.5)"/><use href="#wm" transform="translate(737.3 287.8) rotate(-21.5)"/><use href="#wm" transform="translate(752.3 322.3) rotate(-21.5)"/><use href="#wm" transform="translate(767.3 356.8) rotate(-21.5)"/><use href="#wm" transform="translate(782.3 391.3) rotate(-21.5)"/><use href="#wm" transform="translate(797.3 425.8) rotate(-21.5)"/><use href="#wm" transform="translate(812.3 460.3) rotate(-21.5)"/><use href="#wm" transform="translate(827.3 494.8) rotate(-21.5)"/><use href="#wm" transform="translate(790.3 -50.2) rotate(-21.5)"/><use href="#wm" transform="translate(805.3 -15.7) rotate(-21.5)"/><use href="#wm" transform="translate(820.3 18.8) rotate(-21.5)"/><use href="#wm" transform="translate(835.3 53.3) rotate(-21.5)"/><use href="#wm" transform="translate(850.3 87.8) rotate(-21.5)"/><use href="#wm" transform="translate(865.3 122.3) rotate(-21.5)"/><use href="#wm" transform="translate(880.3 156.8) rotate(-21.5)"/><use href="#wm" transform="translate(895.3 191.3) rotate(-21.5)"/></g><g clip-path="url(#wc2)"><use href="#wm" transform="translate(-18.7 391.9) rotate(-21.5)"/><use href="#wm" transform="translate(-3.7 426.4) rotate(-21.5)"/><use href="#wm" transform="translate(11.3 460.9) rotate(-21.5)"/><use href="#wm" transform="translate(26.3 495.4) rotate(-21.5)"/><use href="#wm" transform="translate(184.3 398.9) rotate(-21.5)"/><use href="#wm" transform="translate(199.3 433.4) rotate(-21.5)"/><use href="#wm" transform="translate(214.3 467.9) rotate(-21.5)"/><use href="#wm" transform="translate(229.3 502.4) rotate(-21.5)"/><use href="#wm" transform="translate(387.3 405.9) rotate(-21.5)"/><use href="#wm" transform="translate(402.3 440.4) rotate(-21.5)"/><use href="#wm" transform="translate(417.3 474.9) rotate(-21.5)"/><use href="#wm" transform="translate(432.3 509.4) rotate(-21.5)"/><use href="#wm" transform="translate(575.3 378.4) rotate(-21.5)"/><use href="#wm" transform="translate(590.3 412.9) rotate(-21.5)"/><use href="#wm" transform="translate(605.3 447.4) rotate(-21.5)"/><use href="#wm" transform="translate(620.3 481.9) rotate(-21.5)"/><use href="#wm" transform="translate(778.3 385.4) rotate(-21.5)"/><use href="#wm" transform="translate(793.3 419.9) rotate(-21.5)"/><use href="#wm" transform="translate(808.3 454.4) rotate(-21.5)"/><use href="#wm" transform="translate(823.3 488.9) rotate(-21.5)"/></g>
</g>
</svg>
</body></html>
